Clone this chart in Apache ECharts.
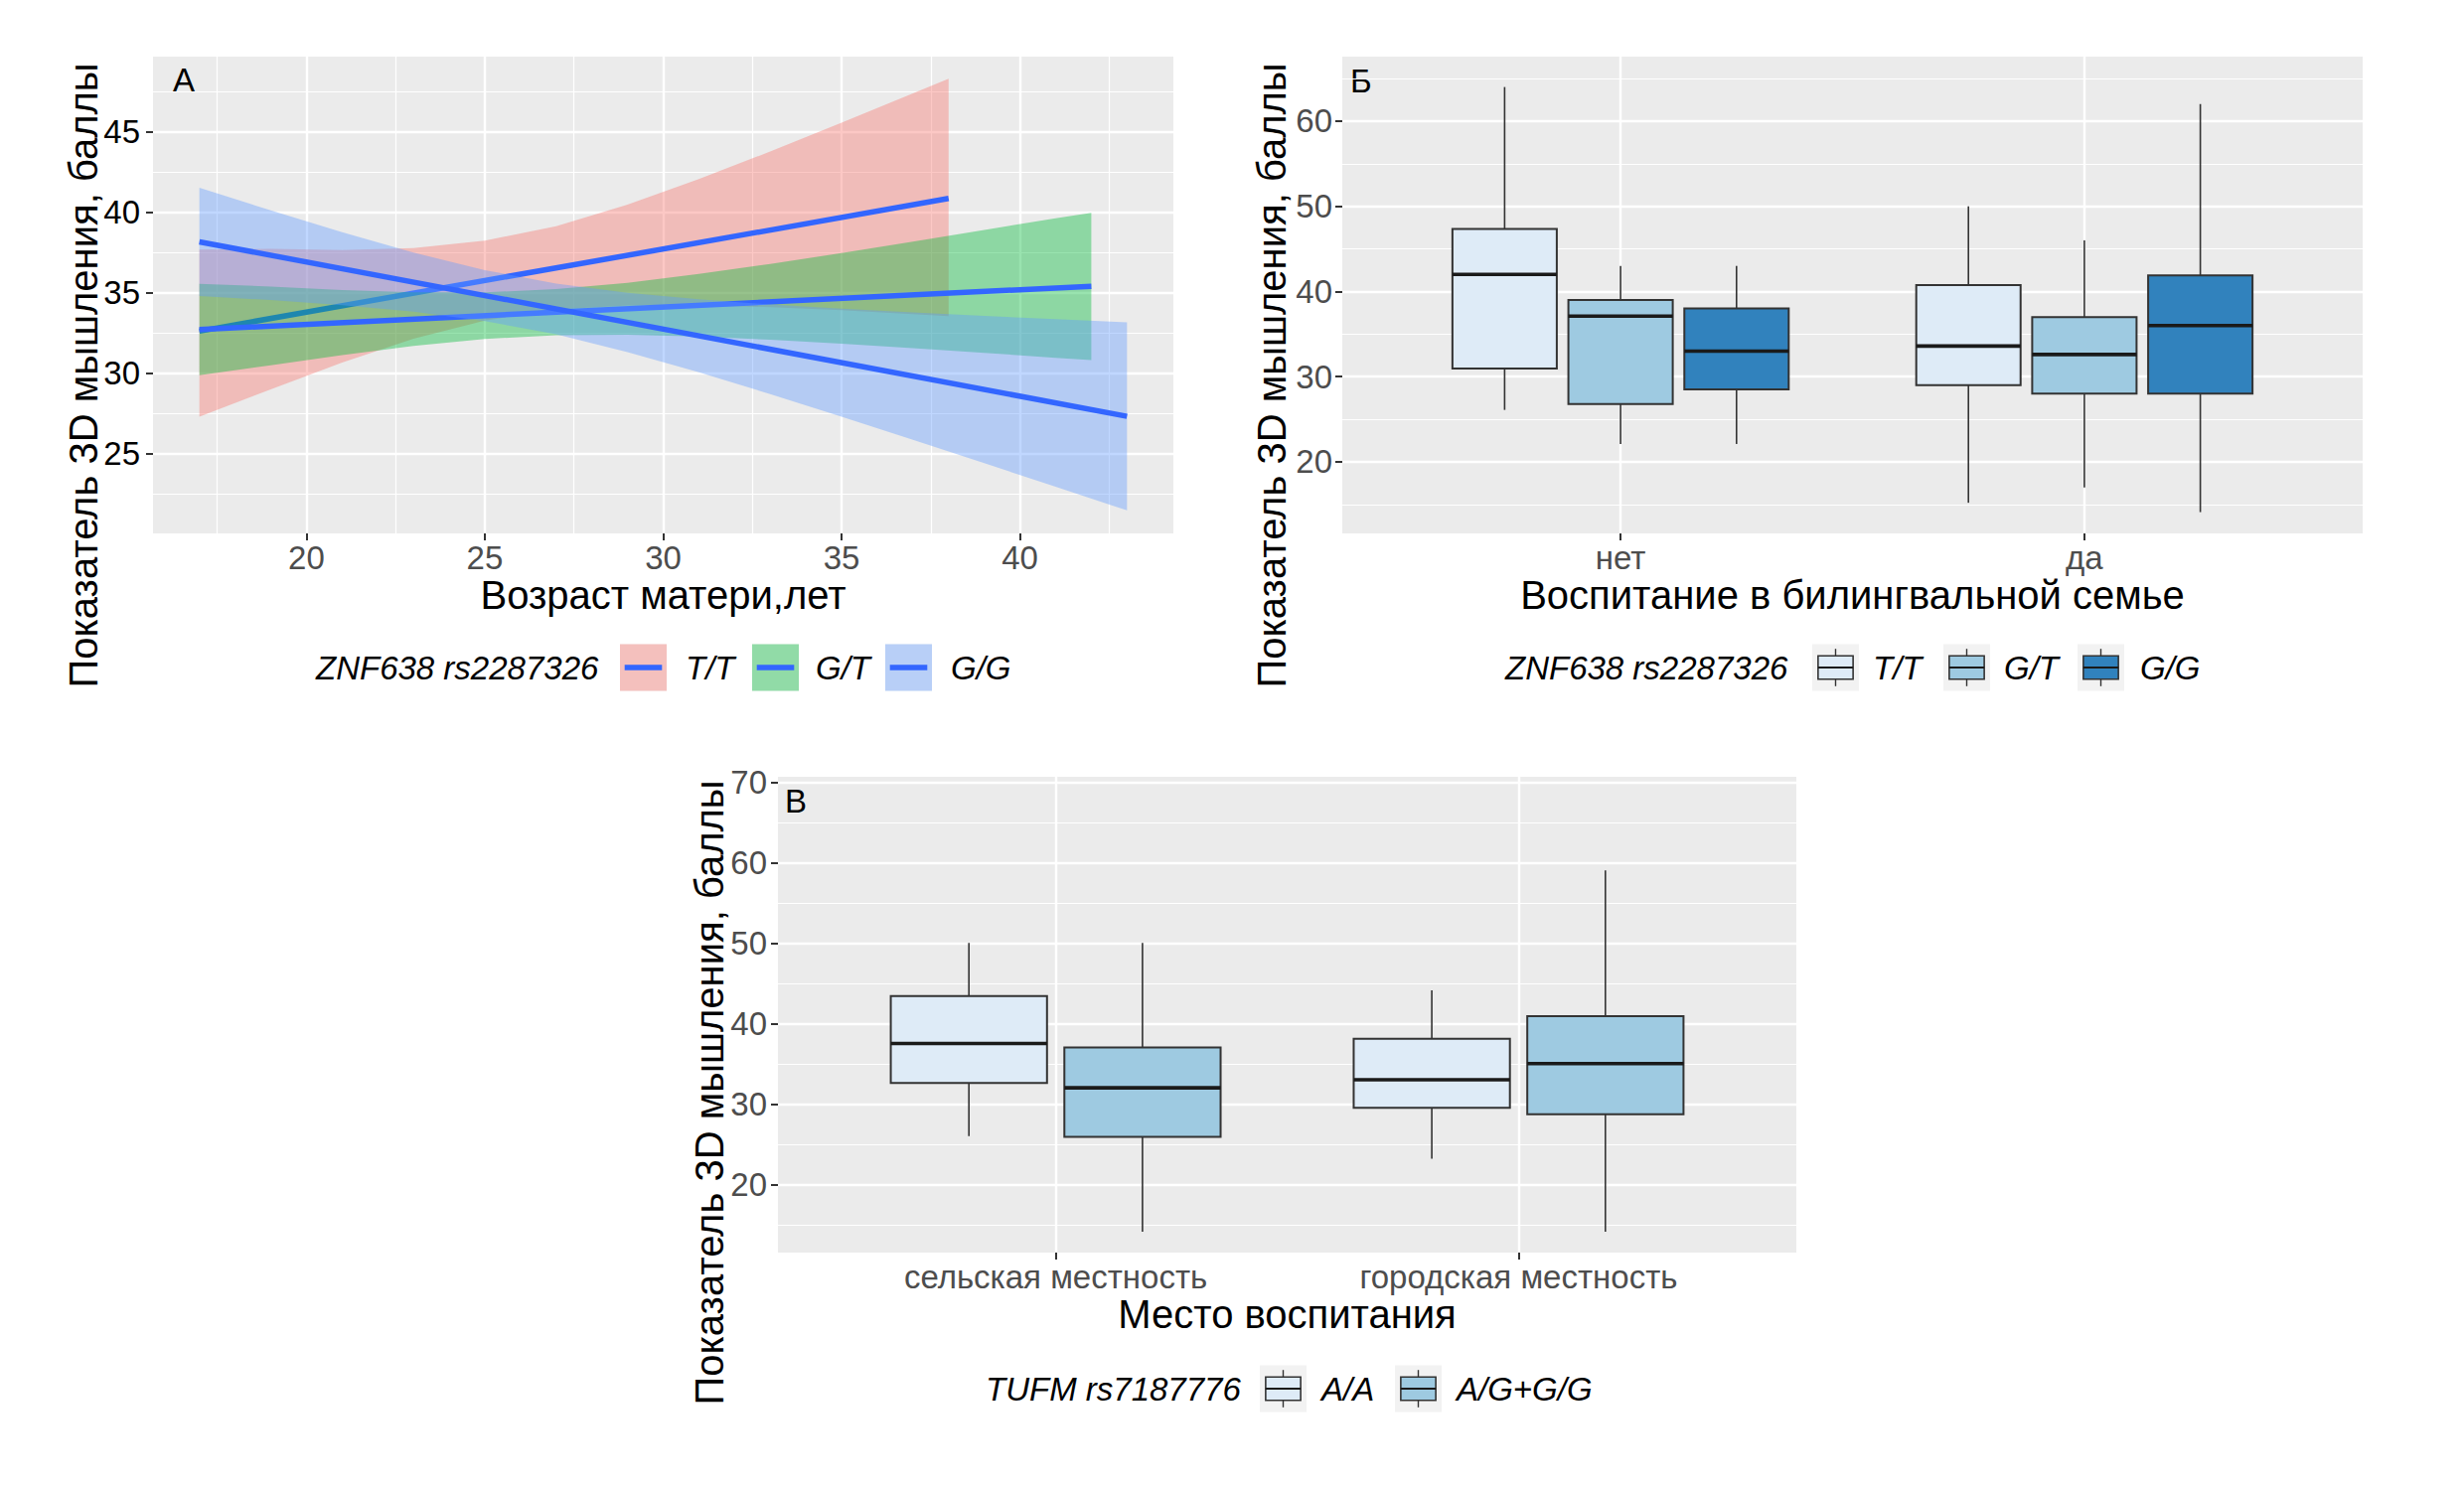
<!DOCTYPE html>
<html><head><meta charset="utf-8">
<script src="https://cdn.jsdelivr.net/npm/echarts@6/dist/echarts.min.js"></script>
<style>html,body{margin:0;padding:0;background:#fff}#c{width:2480px;height:1498px}</style>
</head><body><div id="c"></div>
<script>
// ================= DATA =================
// Panel А: score vs mother's age, linear fit with 95% CI per genotype
const ageTicks = [20, 25, 30, 35, 40];
const ageMinorTicks = [17.5, 22.5, 27.5, 32.5, 37.5, 42.5];
const scoreTicksA = [25, 30, 35, 40, 45];
const scoreMinorA = [22.5, 27.5, 32.5, 37.5, 42.5, 47.5];
const legendTitleA = 'ZNF638 rs2287326';
const genotypesA = ['T/T', 'G/T', 'G/G'];

const ttX    = [17, 19, 21, 23, 25, 27, 29, 31, 33, 35, 37, 38];
const ttLow  = [27.28, 28.98, 30.64, 32.12, 33.26, 33.95, 34.20, 34.21, 34.09, 33.90, 33.66, 33.54];
const ttHigh = [37.67, 37.72, 37.64, 37.76, 38.22, 39.13, 40.46, 42.05, 43.77, 45.56, 47.38, 48.30];
const ttFit  = [[17, 32.6], [38, 40.85]];

const gtX    = [17, 19, 21, 23, 25, 27, 29, 31, 33, 35, 37, 39, 41, 42];
const gtLow  = [29.86, 30.47, 31.11, 31.68, 32.11, 32.35, 32.38, 32.27, 32.06, 31.82, 31.54, 31.25, 30.94, 30.80];
const gtHigh = [35.54, 35.37, 35.15, 35.02, 35.01, 35.21, 35.60, 36.15, 36.78, 37.46, 38.16, 38.89, 39.62, 39.96];
const gtFit  = [[17, 32.7], [42, 35.39]];

const ggX    = [17, 19, 21, 23, 25, 27, 29, 31, 33, 35, 37, 39, 41, 43];
const ggLow  = [34.79, 34.53, 34.21, 33.81, 33.23, 32.40, 31.30, 30.04, 28.68, 27.28, 25.84, 24.39, 22.92, 21.45];
const ggHigh = [41.51, 40.11, 38.75, 37.49, 36.39, 35.56, 34.98, 34.58, 34.26, 34.00, 33.76, 33.55, 33.34, 33.15];
const ggFit  = [[17, 38.15], [43, 27.3]];

// Panel Б: boxplots [min, q1, median, q3, max] per category
const bilingualCats = ['нет', 'да'];
const genotypesB = ['T/T', 'G/T', 'G/G'];
const boxB_TT = [[26.1, 30.95, 42.0, 47.35, 64.0], [15.2, 29.0, 33.6, 40.75, 50.0]];
const boxB_GT = [[22.1, 26.8, 37.1, 39.0, 43.0], [17.0, 28.0, 32.6, 37.0, 46.0]];
const boxB_GG = [[22.1, 28.5, 33.0, 38.0, 43.0], [14.1, 28.0, 36.0, 41.9, 62.0]];
const scoreTicksB = [20, 30, 40, 50, 60];
const scoreMinorB = [15, 25, 35, 45, 55, 65];

// Panel В
const placeCats = ['сельская местность', 'городская местность'];
const legendTitleC = 'TUFM rs7187776';
const genotypesC = ['A/A', 'A/G+G/G'];
const boxC_AA = [[26.0, 32.6, 37.5, 43.4, 50.0], [23.2, 29.5, 33.0, 38.1, 44.1]];
const boxC_AG = [[14.1, 25.9, 32.0, 37.0, 50.0], [14.1, 28.7, 35.0, 40.9, 59.0]];
const scoreTicksC = [20, 30, 40, 50, 60, 70];
const scoreMinorC = [15, 25, 35, 45, 55, 65];

const catPos = [1, 2];

// ================= STYLE =================
const FONT = '"Liberation Sans", Arial, Helvetica, sans-serif';
const BAND = ['rgba(248,118,109,0.4)', 'rgba(0,186,56,0.4)', 'rgba(97,156,255,0.4)'];
const FIT_COLOR = '#3366FF';
const BLUES3 = ['#DEEBF7', '#9ECAE1', '#3182BD'];
const AXIS_TITLE = 'Показатель 3D мышления, баллы';

const chart = echarts.init(document.getElementById('c'), null, {renderer: 'svg', width: 2480, height: 1498});

function majorAxis(o) {
  return Object.assign({
    type: 'value',
    axisLine: {show: false},
    axisTick: {show: true, length: 7, customValues: o.ticks, lineStyle: {color: '#333333', width: 2}},
    axisLabel: {customValues: o.ticks, color: o.labelColor || '#4D4D4D', fontSize: 33, fontFamily: FONT, margin: o.margin || 8, formatter: o.formatter},
    splitLine: {show: true, lineStyle: {color: '#FFFFFF', width: 2.4}},
    nameTextStyle: {fontSize: 40, color: '#000000', fontFamily: FONT}
  }, o.extra);
}
function minorAxis(o) {
  return Object.assign({
    type: 'value',
    axisLine: {show: false},
    axisTick: {show: false, customValues: o.ticks},
    axisLabel: {show: false, customValues: o.ticks},
    splitLine: {show: true, lineStyle: {color: '#FFFFFF', width: 1.2}}
  }, o.extra);
}

function bandSeries(xs, lo, hi, color, z) {
  return {
    type: 'custom', xAxisIndex: 0, yAxisIndex: 0, z: z, silent: true,
    data: xs.map((x, i) => [x, lo[i], hi[i]]),
    encode: {x: 0, y: [1, 2]},
    renderItem: function (params, api) {
      if (params.dataIndex !== 0) return null;
      const pts = [];
      for (let i = 0; i < xs.length; i++) pts.push(api.coord([xs[i], hi[i]]));
      for (let i = xs.length - 1; i >= 0; i--) pts.push(api.coord([xs[i], lo[i]]));
      return {type: 'polygon', shape: {points: pts}, style: {fill: color, stroke: null}};
    }
  };
}
function fitSeries(name, pts, z) {
  return {
    type: 'line', name: name, xAxisIndex: 0, yAxisIndex: 0, z: z, silent: true,
    data: pts, symbol: 'none', showSymbol: false,
    lineStyle: {color: FIT_COLOR, width: 5.5, cap: 'butt'}
  };
}
function boxSeries(name, boxes, slot, nSlots, fill, xi, yi) {
  const dodge = 0.75 / nSlots;
  const half = dodge * 0.9 / 2;
  const data = boxes.map((b, ci) => [catPos[ci] + (slot - (nSlots - 1) / 2) * dodge].concat(b));
  return {
    type: 'custom', name: name, xAxisIndex: xi, yAxisIndex: yi, silent: true, z: 3,
    data: data, encode: {x: 0, y: [1, 2, 3, 4, 5]},
    renderItem: function (params, api) {
      const x = api.value(0);
      const pMin = api.coord([x, api.value(1)]);
      const pQ1 = api.coord([x, api.value(2)]);
      const pMed = api.coord([x, api.value(3)]);
      const pQ3 = api.coord([x, api.value(4)]);
      const pMax = api.coord([x, api.value(5)]);
      const xl = api.coord([x - half, api.value(3)])[0];
      const xr = api.coord([x + half, api.value(3)])[0];
      return {type: 'group', children: [
        {type: 'line', shape: {x1: pMin[0], y1: pMin[1], x2: pQ1[0], y2: pQ1[1]}, style: {stroke: '#333333', lineWidth: 1.6}},
        {type: 'line', shape: {x1: pQ3[0], y1: pQ3[1], x2: pMax[0], y2: pMax[1]}, style: {stroke: '#333333', lineWidth: 1.6}},
        {type: 'rect', shape: {x: xl, y: pQ3[1], width: xr - xl, height: pQ1[1] - pQ3[1]}, style: {fill: fill, stroke: '#333333', lineWidth: 2}},
        {type: 'line', shape: {x1: xl, y1: pMed[1], x2: xr, y2: pMed[1]}, style: {stroke: '#1A1A1A', lineWidth: 3.6}}
      ]};
    }
  };
}

// ============ legends & free text (graphic) ============
const K = 47;
function txt(text, x, y, size, opts) {
  opts = opts || {};
  return {type: 'text', x: x, y: y, rotation: opts.rotation || 0, silent: true,
    style: {text: text, fill: '#000000', font: (opts.italic ? 'italic ' : '') + size + 'px ' + FONT,
      align: opts.align || 'left', verticalAlign: 'middle', textAlign: opts.align || 'left', textVerticalAlign: 'middle'}};
}
function smoothKey(x, cy, fill) {
  const y = cy - K / 2;
  return [
    {type: 'rect', silent: true, shape: {x: x, y: y, width: K, height: K}, style: {fill: '#F2F2F2'}},
    {type: 'rect', silent: true, shape: {x: x, y: y, width: K, height: K}, style: {fill: fill}},
    {type: 'line', silent: true, shape: {x1: x + 0.1 * K, y1: cy, x2: x + 0.9 * K, y2: cy}, style: {stroke: FIT_COLOR, lineWidth: 5.5}}
  ];
}
function boxKey(x, cy, fill) {
  const y = cy - K / 2;
  const mx = x + K / 2;
  return [
    {type: 'rect', silent: true, shape: {x: x, y: y, width: K, height: K}, style: {fill: '#F2F2F2'}},
    {type: 'line', silent: true, shape: {x1: mx, y1: y + 0.1 * K, x2: mx, y2: y + 0.25 * K}, style: {stroke: '#333333', lineWidth: 1.4}},
    {type: 'line', silent: true, shape: {x1: mx, y1: y + 0.75 * K, x2: mx, y2: y + 0.9 * K}, style: {stroke: '#333333', lineWidth: 1.4}},
    {type: 'rect', silent: true, shape: {x: x + 0.125 * K, y: y + 0.25 * K, width: 0.75 * K, height: 0.5 * K}, style: {fill: fill, stroke: '#333333', lineWidth: 1.6}},
    {type: 'line', silent: true, shape: {x1: x + 0.125 * K, y1: cy, x2: x + 0.875 * K, y2: cy}, style: {stroke: '#1A1A1A', lineWidth: 2.2}}
  ];
}

const graphics = [];
// panel letters
graphics.push(txt('А', 174, 80, 33));
graphics.push(txt('Б', 1359, 81, 33));
graphics.push(txt('В', 790, 806, 33));
// y axis titles
graphics.push(txt(AXIS_TITLE, 84, 378, 40, {rotation: Math.PI / 2, align: 'center'}));
graphics.push(txt(AXIS_TITLE, 1280, 378, 40, {rotation: Math.PI / 2, align: 'center'}));
graphics.push(txt(AXIS_TITLE, 714, 1100, 40, {rotation: Math.PI / 2, align: 'center'}));
// legend А
graphics.push(txt(legendTitleA, 318, 672, 33, {italic: true}));
[[624, 690], [757, 821], [891, 957]].forEach((p, i) => {
  graphics.push.apply(graphics, smoothKey(p[0], 672, BAND[i]));
  graphics.push(txt(genotypesA[i], p[1], 672, 33, {italic: true}));
});
// legend Б
graphics.push(txt(legendTitleA, 1515, 672, 33, {italic: true}));
[[1824, 1885], [1956, 2017], [2091, 2154]].forEach((p, i) => {
  graphics.push.apply(graphics, boxKey(p[0], 672, BLUES3[i]));
  graphics.push(txt(genotypesB[i], p[1], 672, 33, {italic: true}));
});
// legend В
graphics.push(txt(legendTitleC, 992, 1398, 33, {italic: true}));
[[1268, 1330], [1404, 1466]].forEach((p, i) => {
  graphics.push.apply(graphics, boxKey(p[0], 1398, BLUES3[i]));
  graphics.push(txt(genotypesC[i], p[1], 1398, 33, {italic: true}));
});

const gridBase = {show: true, backgroundColor: '#EBEBEB', borderWidth: 0, containLabel: false, outerBoundsMode: 'none'};

const option = {
  animation: false,
  backgroundColor: '#FFFFFF',
  textStyle: {fontFamily: FONT},
  grid: [
    Object.assign({left: 154, top: 57, width: 1027, height: 480}, gridBase),
    Object.assign({left: 1351, top: 57, width: 1027, height: 480}, gridBase),
    Object.assign({left: 783, top: 782, width: 1025, height: 479}, gridBase)
  ],
  xAxis: [
    majorAxis({ticks: ageTicks, extra: {gridIndex: 0, min: 15.7, max: 44.3,
      name: 'Возраст матери,лет', nameLocation: 'middle', nameGap: 42}}),
    minorAxis({ticks: ageMinorTicks, extra: {gridIndex: 0, min: 15.7, max: 44.3}}),
    majorAxis({ticks: catPos, formatter: v => bilingualCats[Math.round(v) - 1], extra: {gridIndex: 1, min: 0.4, max: 2.6,
      name: 'Воспитание в билингвальной семье', nameLocation: 'middle', nameGap: 42}}),
    majorAxis({ticks: catPos, formatter: v => placeCats[Math.round(v) - 1], extra: {gridIndex: 2, min: 0.4, max: 2.6,
      name: 'Место воспитания', nameLocation: 'middle', nameGap: 42}})
  ],
  yAxis: [
    majorAxis({ticks: scoreTicksA, labelColor: '#000000', margin: 13, extra: {gridIndex: 0, min: 20.02, max: 49.67}}),
    minorAxis({ticks: scoreMinorA, extra: {gridIndex: 0, min: 20.02, max: 49.67}}),
    majorAxis({ticks: scoreTicksB, margin: 10, extra: {gridIndex: 1, min: 11.6, max: 67.57}}),
    minorAxis({ticks: scoreMinorB, extra: {gridIndex: 1, min: 11.6, max: 67.57}}),
    majorAxis({ticks: scoreTicksC, margin: 11, extra: {gridIndex: 2, min: 11.52, max: 70.65}}),
    minorAxis({ticks: scoreMinorC, extra: {gridIndex: 2, min: 11.52, max: 70.65}})
  ],
  series: [
    bandSeries(ttX, ttLow, ttHigh, BAND[0], 2),
    fitSeries('T/T', ttFit, 3),
    bandSeries(gtX, gtLow, gtHigh, BAND[1], 4),
    fitSeries('G/T', gtFit, 5),
    bandSeries(ggX, ggLow, ggHigh, BAND[2], 6),
    fitSeries('G/G', ggFit, 7),
    boxSeries('T/T', boxB_TT, 0, 3, BLUES3[0], 2, 2),
    boxSeries('G/T', boxB_GT, 1, 3, BLUES3[1], 2, 2),
    boxSeries('G/G', boxB_GG, 2, 3, BLUES3[2], 2, 2),
    boxSeries('A/A', boxC_AA, 0, 2, BLUES3[0], 3, 4),
    boxSeries('A/G+G/G', boxC_AG, 1, 2, BLUES3[1], 3, 4)
  ],
  graphic: {elements: graphics}
};
chart.setOption(option);
</script>
</body></html>
